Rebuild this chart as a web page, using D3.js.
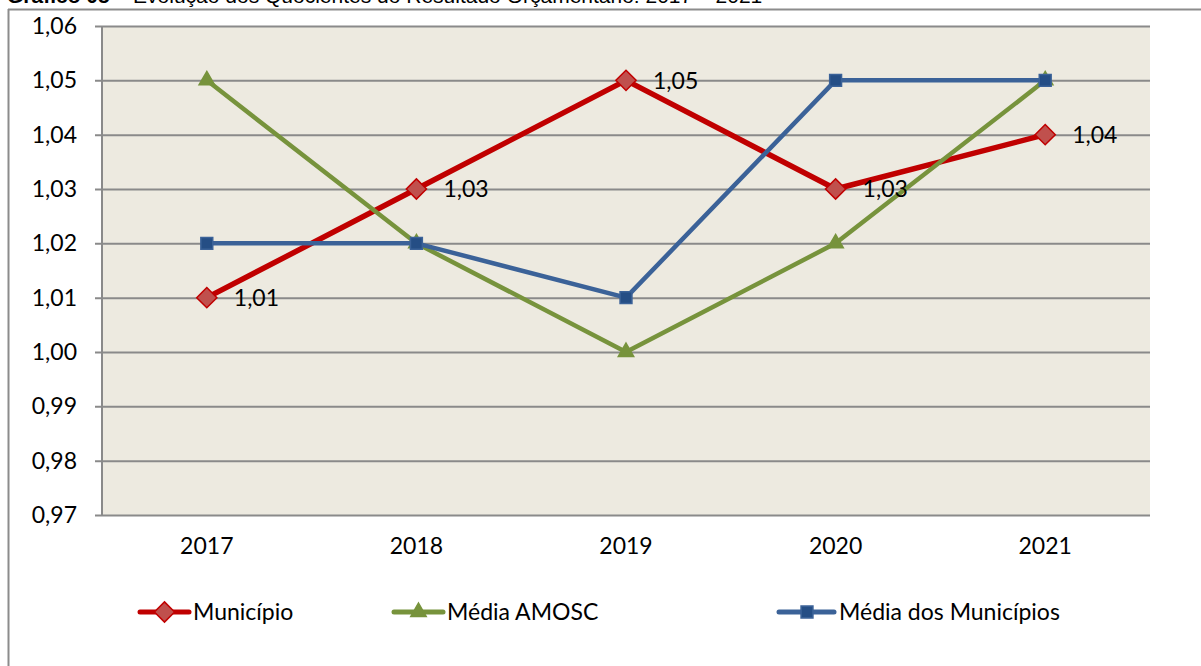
<!DOCTYPE html>
<html>
<head>
<meta charset="utf-8">
<title>Quocientes do Resultado Orçamentário</title>
<script src="https://cdn.jsdelivr.net/npm/d3@7"></script>
<style>
  body { margin: 0; background: #fff; }
  svg { display: block; }
</style>
</head>
<body>
<svg id="chart" width="1201" height="666"></svg>
<script>
// dados
var anos = ['2017', '2018', '2019', '2020', '2021']
var municipio = [1.01, 1.03, 1.05, 1.03, 1.04]
var mediaAmosc = [1.05, 1.02, 1.00, 1.02, 1.05]
var mediaMunicipios = [1.02, 1.02, 1.01, 1.05, 1.05]
var yTicks = [0.97, 0.98, 0.99, 1.00, 1.01, 1.02, 1.03, 1.04, 1.05, 1.06]
var titulo = 'Gráfico 05'
var subtitulo = ' – Evolução dos Quocientes do Resultado Orçamentário: 2017 – 2021'

var series = [
    { nome: 'Município', valores: municipio, cor: '#C00000', fill: '#C0504D', marcador: 'diamond', largura: 5.5, rotulos: true },
    { nome: 'Média AMOSC', valores: mediaAmosc, cor: '#77933C', fill: '#77933C', marcador: 'triangle', largura: 4.5, rotulos: false },
    { nome: 'Média dos Municípios', valores: mediaMunicipios, cor: '#3B6298', fill: '#254E85', marcador: 'square', largura: 4.5, rotulos: false }
]

var svg = d3.select('#chart')
var fonte = 'Lato, "Open Sans", sans-serif'

// titulo (cortado no topo, como no original)
var t = svg.append('text')
    .attr('x', 7).attr('y', 3)
    .attr('font-family', 'Liberation Sans, Arial, sans-serif')
    .attr('font-size', 21)
t.append('tspan').attr('font-weight', 'bold').text(titulo)
t.append('tspan').text(subtitulo)

// moldura do grafico
svg.append('line').attr('x1', 8).attr('x2', 1201).attr('y1', 9.5).attr('y2', 9.5)
    .attr('stroke', '#8c8c8c').attr('stroke-width', 2)
svg.append('line').attr('x1', 8.5).attr('x2', 8.5).attr('y1', 9).attr('y2', 666)
    .attr('stroke', '#8c8c8c').attr('stroke-width', 2)

var area = { left: 102, top: 26, right: 1150, bottom: 515 }

var x = d3.scaleBand().domain(anos).range([area.left, area.right])
var y = d3.scaleLinear().domain([0.97, 1.06]).range([area.bottom, area.top])

svg.append('rect')
    .attr('x', area.left).attr('y', area.top)
    .attr('width', area.right - area.left).attr('height', area.bottom - area.top)
    .attr('fill', '#EDEAE0')

// eixo y com grade
var eixoY = d3.axisLeft(y)
    .tickValues(yTicks)
    .tickSize(area.right - area.left + 7)
    .tickPadding(18)
    .tickFormat(function (d) { return d3.format('.2f')(d).replace('.', ',') })

var gy = svg.append('g')
    .attr('transform', 'translate(' + area.right + ',0)')
    .call(eixoY)
gy.select('.domain').remove()
gy.selectAll('.tick line').attr('stroke', '#8a8a8a').attr('stroke-width', 2)
gy.selectAll('.tick text')
    .attr('font-family', fonte).attr('font-size', 23).attr('fill', '#000')

svg.append('line')
    .attr('x1', area.left).attr('x2', area.left)
    .attr('y1', area.top).attr('y2', area.bottom)
    .attr('stroke', '#8a8a8a').attr('stroke-width', 2)

// eixo x
var eixoX = d3.axisBottom(x).tickSize(0).tickPadding(23)
var gx = svg.append('g')
    .attr('transform', 'translate(0,' + area.bottom + ')')
    .call(eixoX)
gx.select('.domain').remove()
gx.selectAll('.tick text')
    .attr('font-family', fonte).attr('font-size', 23).attr('fill', '#000')

var cx = function (d, i) { return x(anos[i]) + x.bandwidth() / 2 }

var linha = d3.line()
    .x(function (d, i) { return cx(d, i) })
    .y(function (d) { return y(d) })

function simbolo(tipo) {
    if (tipo == 'diamond') return d3.symbol().type(d3.symbolDiamond2).size(260)()
    if (tipo == 'triangle') return d3.symbol().type(d3.symbolTriangle2).size(170)()
    return d3.symbol().type(d3.symbolSquare2).size(180)()
}

series.forEach(function (s) {
    var g = svg.append('g')
    g.append('path')
        .datum(s.valores)
        .attr('d', linha)
        .attr('fill', 'none')
        .attr('stroke', s.cor)
        .attr('stroke-width', s.largura)
        .attr('stroke-linejoin', 'round')
    g.selectAll('path.m')
        .data(s.valores)
        .enter()
        .append('path')
        .attr('class', 'm')
        .attr('d', simbolo(s.marcador))
        .attr('transform', function (d, i) { return 'translate(' + cx(d, i) + ',' + y(d) + ')' })
        .attr('fill', s.fill)
        .attr('stroke', s.cor)
        .attr('stroke-width', 1.5)
})

// rotulos de dados
series.filter(function (s) { return s.rotulos }).forEach(function (s) {
    svg.append('g').selectAll('text')
        .data(s.valores)
        .enter()
        .append('text')
        .attr('x', function (d, i) { return cx(d, i) + 27 })
        .attr('y', function (d) { return y(d) })
        .attr('dy', '0.36em')
        .attr('font-family', fonte).attr('font-size', 23)
        .text(function (d) { return d3.format('.2f')(d).replace('.', ',') })
})

// legenda
var legPos = [140, 394, 779]
var leg = svg.append('g').selectAll('g')
    .data(series)
    .enter()
    .append('g')
    .attr('transform', function (d, i) { return 'translate(' + legPos[i] + ',612)' })

leg.append('line')
    .attr('x1', 0).attr('x2', function (d, i) { return i == 2 ? 55 : 49 })
    .attr('y1', 0).attr('y2', 0)
    .attr('stroke', function (d) { return d.cor })
    .attr('stroke-width', 5)
    .attr('stroke-linecap', 'round')
leg.append('path')
    .attr('d', function (d) { return simbolo(d.marcador) })
    .attr('transform', function (d, i) { return 'translate(' + (i == 2 ? 28 : 24.5) + ',0)' })
    .attr('fill', function (d) { return d.fill })
    .attr('stroke', function (d) { return d.cor })
    .attr('stroke-width', 1.5)
leg.append('text')
    .attr('x', function (d, i) { return i == 2 ? 60 : 53 })
    .attr('y', 0).attr('dy', '0.36em')
    .attr('font-family', fonte).attr('font-size', 23)
    .text(function (d) { return d.nome })
</script>
</body>
</html>
